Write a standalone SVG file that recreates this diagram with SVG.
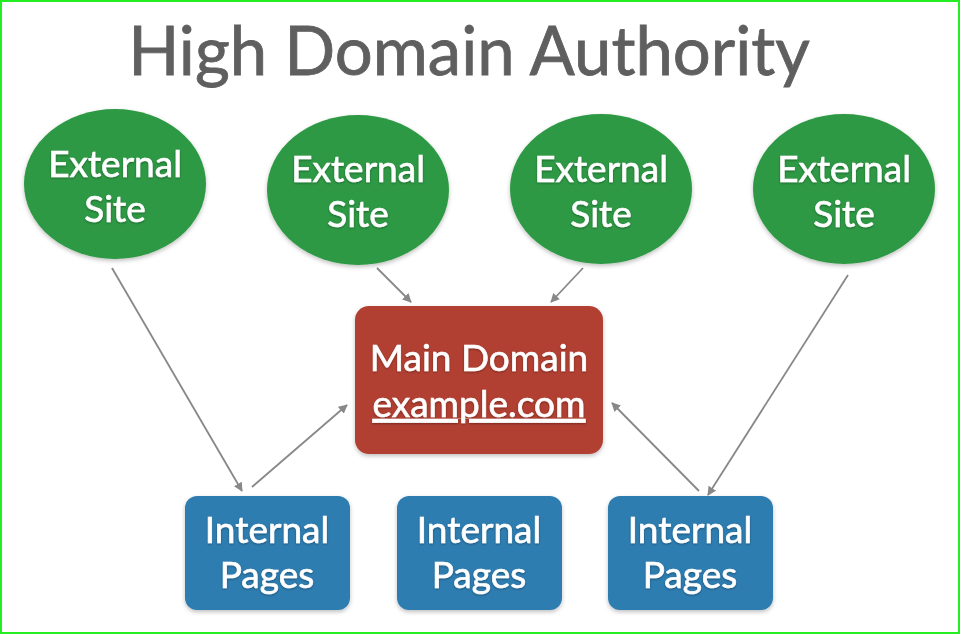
<svg xmlns="http://www.w3.org/2000/svg" width="961" height="635" viewBox="0 0 961 635">
<defs>
<style>
.lbl{font-family:Lato,"Open Sans","Liberation Sans",sans-serif;fill:#ffffff;stroke:#ffffff;stroke-width:0.6;text-anchor:middle;font-size:37px}
.ext{fill:#2f9944}
.main{fill:#b24130}
.int{fill:#2f7db1}
.con{stroke:#888888;stroke-width:1.8;fill:none;marker-end:url(#ah)}
</style>
<marker id="ah" viewBox="0 0 10 10" refX="9" refY="5" markerWidth="9" markerHeight="9" markerUnits="userSpaceOnUse" orient="auto">
<path d="M0,0 L10,5 L0,10 z" fill="#888888"/>
</marker>
<filter id="sh" x="-10%" y="-10%" width="120%" height="130%">
<feDropShadow dx="0" dy="2" stdDeviation="2" flood-color="#000" flood-opacity="0.25"/>
</filter>
<filter id="tsh" x="-5%" y="-5%" width="110%" height="120%">
<feDropShadow dx="0" dy="1" stdDeviation="0.8" flood-color="#000" flood-opacity="0.35"/>
</filter>
</defs>
<rect x="0" y="0" width="961" height="635" fill="#ffffff"/>
<rect x="1" y="1" width="958" height="632" fill="none" stroke="#22ee22" stroke-width="2"/>
<text x="469" y="75" font-family="Lato,'Open Sans','Liberation Sans',sans-serif" font-size="67" fill="#5f5f5f" stroke="#5f5f5f" stroke-width="0.8" text-anchor="middle">High Domain Authority</text>
<g id="connectors">
<line class="con" x1="112" y1="268" x2="242" y2="491"/>
<line class="con" x1="252" y1="487" x2="347" y2="405"/>
<line class="con" x1="377" y1="268" x2="411" y2="302"/>
<line class="con" x1="583" y1="268" x2="551" y2="302"/>
<line class="con" x1="848" y1="275" x2="708" y2="495"/>
<line class="con" x1="699" y1="491" x2="612" y2="403"/>
</g>
<g id="ext1"><ellipse class="ext" cx="115" cy="184" rx="91" ry="75" filter="url(#sh)"/><g filter="url(#tsh)"><text class="lbl" x="115" y="177">External</text><text class="lbl" x="115" y="222">Site</text></g></g>
<g id="ext2"><ellipse class="ext" cx="358" cy="190" rx="91" ry="75" filter="url(#sh)"/><g filter="url(#tsh)"><text class="lbl" x="358" y="182">External</text><text class="lbl" x="358" y="227">Site</text></g></g>
<g id="ext3"><ellipse class="ext" cx="601" cy="189" rx="91" ry="75" filter="url(#sh)"/><g filter="url(#tsh)"><text class="lbl" x="601" y="182">External</text><text class="lbl" x="601" y="227">Site</text></g></g>
<g id="ext4"><ellipse class="ext" cx="844" cy="189" rx="91" ry="75" filter="url(#sh)"/><g filter="url(#tsh)"><text class="lbl" x="844" y="182">External</text><text class="lbl" x="844" y="227">Site</text></g></g>
<g id="main"><rect class="main" x="355" y="306" width="248" height="148" rx="14" filter="url(#sh)"/><g filter="url(#tsh)"><text class="lbl" x="479" y="371" font-size="39">Main Domain</text><text class="lbl" x="479" y="417" font-size="39" text-decoration="underline">example.com</text></g></g>
<g id="int1"><rect class="int" x="185" y="496" width="165" height="114" rx="12" filter="url(#sh)"/><g filter="url(#tsh)"><text class="lbl" x="267" y="543">Internal</text><text class="lbl" x="267" y="588">Pages</text></g></g>
<g id="int2"><rect class="int" x="397" y="496" width="165" height="114" rx="12" filter="url(#sh)"/><g filter="url(#tsh)"><text class="lbl" x="479" y="543">Internal</text><text class="lbl" x="479" y="588">Pages</text></g></g>
<g id="int3"><rect class="int" x="608" y="496" width="165" height="114" rx="12" filter="url(#sh)"/><g filter="url(#tsh)"><text class="lbl" x="690" y="543">Internal</text><text class="lbl" x="690" y="588">Pages</text></g></g>
</svg>
